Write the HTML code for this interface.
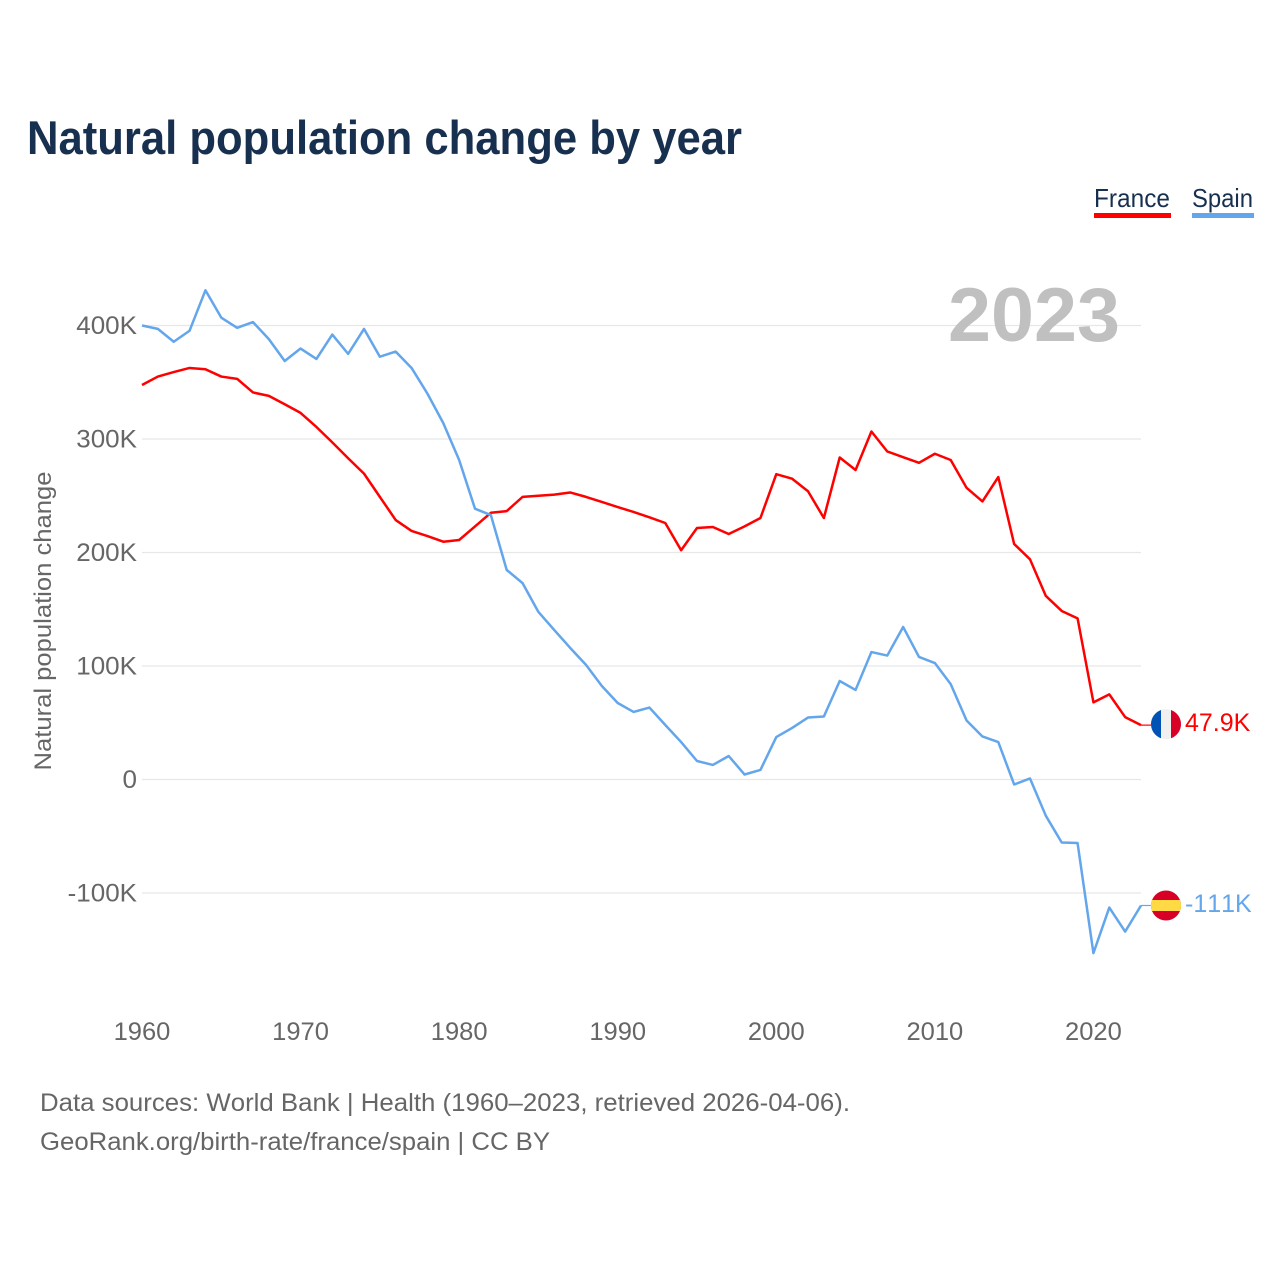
<!DOCTYPE html>
<html lang="en">
<head>
<meta charset="utf-8">
<title>Natural population change by year</title>
<style>
  html, body { margin: 0; padding: 0; background: #ffffff; }
  svg { display: block; }
  text { font-family: "Liberation Sans", sans-serif; font-kerning: none; }
</style>
</head>
<body>
<svg id="chart" width="1280" height="1280" viewBox="0 0 1280 1280" xmlns="http://www.w3.org/2000/svg">
  <rect x="0" y="0" width="1280" height="1280" fill="#ffffff"/>
  <text x="27" y="154" font-size="47" font-weight="700" fill="#18304f" textLength="715" lengthAdjust="spacingAndGlyphs">Natural population change by year</text>

  <g>
    <g>
      <text x="1094" y="207" font-size="26" fill="#18304f" textLength="76" lengthAdjust="spacingAndGlyphs">France</text>
      <rect x="1094" y="213" width="77" height="5" fill="#ff0000"/>
    </g>
    <g>
      <text x="1192" y="207" font-size="26" fill="#18304f" textLength="61" lengthAdjust="spacingAndGlyphs">Spain</text>
      <rect x="1192" y="213" width="62" height="5" fill="#63a6ec"/>
    </g>
  </g>

  <text transform="translate(51 621) rotate(-90)" text-anchor="middle" font-size="24" fill="#666666" textLength="299" lengthAdjust="spacingAndGlyphs">Natural population change</text>

  <g id="grid"></g>
  <g id="yTicks"></g>
  <g id="xTicks"></g>
  <text id="yearWatermark" x="1120" y="341" text-anchor="end" font-size="76" font-weight="700" fill="#c0c0c0" textLength="172" lengthAdjust="spacingAndGlyphs"></text>
  <g id="series"></g>
  <g id="ends"></g>

  <g>
    <text x="40" y="1111" font-size="25" fill="#666666" textLength="810" lengthAdjust="spacingAndGlyphs">Data sources: World Bank | Health (1960–2023, retrieved 2026-04-06).</text>
    <text x="40" y="1150" font-size="25" fill="#666666" textLength="510" lengthAdjust="spacingAndGlyphs">GeoRank.org/birth-rate/france/spain | CC BY</text>
  </g>
</svg>
<script>
const firstYear = 1960;
const xTickYears = [1960, 1970, 1980, 1990, 2000, 2010, 2020];
const yTickValues = [-100, 0, 100, 200, 300, 400];
const yTickLabels = ["-100K", "0", "100K", "200K", "300K", "400K"];
const franceValues = [
  347.6, 355, 359, 362.6, 361.5, 355, 353, 341, 338, 330.6,
  323, 310.6, 297, 283, 269.5, 249, 228.6, 219, 214.5, 209.5,
  211, 223, 235, 236.5, 249, 250, 251, 252.9, 249, 244.5,
  240, 235.7, 231, 226, 202, 221.6, 222.5, 216.3, 223, 230.4,
  269, 265, 254, 230.4, 283.7, 272.7, 306.6, 289, 284, 279,
  287, 281.5, 257, 245, 266.5, 207.5, 194, 161.7, 148.5, 142,
  68, 75, 55, 47.9
];
const spainValues = [
  400, 397, 385.7, 395.4, 431, 406.9, 398, 403, 388, 368.7,
  379.7, 370.5, 392, 375, 397, 372.5, 377, 362.6, 340, 314,
  281.5, 238.6, 233, 184.6, 173, 147.6, 131.7, 116, 101, 82.4,
  67.4, 59.5, 63.4, 48, 33, 16.3, 12.8, 20.7, 4.4, 8.4,
  37.4, 45.4, 54.6, 55.5, 86.8, 78.9, 112.3, 109.2, 134.4, 108,
  102.6, 84, 52, 37.9, 33, -4.4, 0.9, -32, -55.5, -56,
  -153, -112.8, -134, -111
];

const NS = "http://www.w3.org/2000/svg";
const lastYear = firstYear + franceValues.length - 1;
const xScale = year => 142 + (year - firstYear) * (1141 - 142) / 63;
const yScale = value => 779.5 - value * 1.135;

function make(tag, attrs, parent, text) {
  const el = document.createElementNS(NS, tag);
  for (const key in attrs) el.setAttribute(key, attrs[key]);
  if (text !== undefined) el.textContent = text;
  parent.appendChild(el);
  return el;
}
function formatValue(value) {
  const abs = Math.abs(value);
  const digits = abs >= 100 ? 0 : 1;
  return value.toFixed(digits) + "K";
}
function stretch(el, factor) {
  el.setAttribute("textLength", (el.getComputedTextLength() * factor).toFixed(2));
  el.setAttribute("lengthAdjust", "spacingAndGlyphs");
}

document.getElementById("yearWatermark").textContent = String(lastYear);

const grid = document.getElementById("grid");
const yTicks = document.getElementById("yTicks");
const xTicks = document.getElementById("xTicks");
yTickValues.forEach((value, i) => {
  const line = make("line", { x1: 142, x2: 1141, y1: yScale(value), y2: yScale(value), stroke: "#e7e7e7", "stroke-width": 1.2 }, grid);
  
  
  const label = make("text", { x: 137, y: yScale(value) + 8.5, "text-anchor": "end", "font-size": 25, fill: "#666666" }, yTicks, yTickLabels[i]);
  
  
  stretch(label, 1.04);
});
xTickYears.forEach(year => {
  const label = make("text", { x: xScale(year), y: 1040, "text-anchor": "middle", "font-size": 25, fill: "#666666" }, xTicks, String(year));
  
  
  stretch(label, 1.02);
});

function pathFor(values) {
  return values.map((v, i) => (i ? "L" : "M") + xScale(firstYear + i).toFixed(2) + " " + yScale(v).toFixed(2)).join(" ");
}

const seriesGroup = document.getElementById("series");
const endsGroup = document.getElementById("ends");

const francePath = make("path", { d: pathFor(franceValues), fill: "none", stroke: "#ff0000", "stroke-width": 2.5, "stroke-linejoin": "round" }, seriesGroup);


const spainPath = make("path", { d: pathFor(spainValues), fill: "none", stroke: "#63a6ec", "stroke-width": 2.5, "stroke-linejoin": "round" }, seriesGroup);



// France end marker
const frY = yScale(franceValues[franceValues.length - 1]);
const frConn = make("line", { x1: 1141, x2: 1151, y1: frY, y2: frY, stroke: "#ff0000", "stroke-width": 1.2 }, endsGroup);


const frFlag = make("g", {}, endsGroup);


const frCy = frY - 1;
make("circle", { cx: 1166, cy: frCy, r: 15, fill: "#f0f0f0" }, frFlag);
make("path", { d: `M1161 ${frCy - 14.14} A15 15 0 0 0 1161 ${frCy + 14.14} Z`, fill: "#0052b4" }, frFlag);
make("path", { d: `M1171 ${frCy - 14.14} A15 15 0 0 1 1171 ${frCy + 14.14} Z`, fill: "#d80027" }, frFlag);
const frLabel = make("text", { x: 1185, y: frCy + 7, "font-size": 25, fill: "#ff0000" }, endsGroup, formatValue(franceValues[franceValues.length - 1]));



// Spain end marker
const esY = yScale(spainValues[spainValues.length - 1]);
const esConn = make("line", { x1: 1141, x2: 1151, y1: esY, y2: esY, stroke: "#63a6ec", "stroke-width": 1.2 }, endsGroup);


const esFlag = make("g", {}, endsGroup);


make("circle", { cx: 1166, cy: esY, r: 15, fill: "#d80027" }, esFlag);
make("path", { d: `M1152.04 ${esY - 5.5} A15 15 0 0 0 1152.04 ${esY + 5.5} H1179.96 A15 15 0 0 0 1179.96 ${esY - 5.5} Z`, fill: "#ffda44" }, esFlag);
const esLabel = make("text", { x: 1185, y: esY + 6.5, "font-size": 25, fill: "#63a6ec" }, endsGroup, formatValue(spainValues[spainValues.length - 1]));


</script>
</body>
</html>
